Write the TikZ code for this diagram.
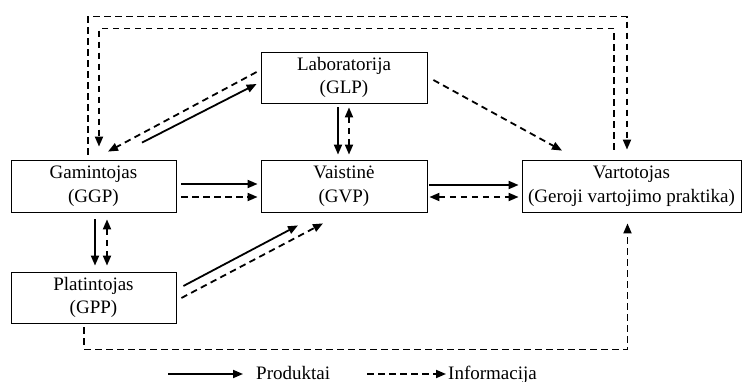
\documentclass[tikz,border=0pt]{standalone}
\usepackage{fontspec}
\setmainfont{Liberation Serif}
\usetikzlibrary{arrows.meta,calc}
\begin{document}
\begin{tikzpicture}[x=1pt,y=-1pt,
  >={Triangle[length=10pt,width=8pt]},
  txt/.style={font=\fontsize{19}{23.5}\selectfont},
  box/.style={txt,draw,line width=0.8pt,inner sep=0pt,align=center},
  prod/.style={line width=1.8pt,->},
  info/.style={line width=1.8pt,dash pattern=on 6.5pt off 4.5pt,->},
  infob/.style={line width=1.8pt,dash pattern=on 6.5pt off 4.5pt,<->}
]
\useasboundingbox (0,0) rectangle (742,382);
\node[box,minimum width=165pt,minimum height=52pt] (gam) at (93.5,186) {Gamintojas\\(GGP)};
\node[box,minimum width=165pt,minimum height=51pt] (plat) at (93.5,297.5) {Platintojas\\(GPP)};
\node[box,minimum width=166pt,minimum height=51pt] (lab) at (344,77.5) {Laboratorija\\(GLP)};
\node[box,minimum width=166pt,minimum height=52pt] (vais) at (344,186) {Vaistinė\\(GVP)};
\node[box,minimum width=219pt,minimum height=52pt] (vart) at (631.5,186) {Vartotojas\\(Geroji vartojimo praktika)};

% Gamintojas -> Vaistine
\draw[prod] ($(gam.east)+(5,-2)$) -- ($(vais.west)+(-3,-2)$);
\draw[info] ($(gam.east)+(5,11)$) -- ($(vais.west)+(-3,11)$);
% Vaistine -> Vartotojas
\draw[prod] ($(vais.east)+(2,-1)$) -- ($(vart.west)+(-3,-1)$);
\draw[infob] ($(vais.east)+(2,11)$) -- ($(vart.west)+(-3,11)$);
% Laboratorija -> Vaistine
\draw[prod] ($(lab.south)+(-6,4)$) -- ($(vais.north)+(-6,-5)$);
\draw[infob] ($(lab.south)+(5,4)$) -- ($(vais.north)+(5,-5)$);
% Gamintojas -> Platintojas
\draw[prod] ($(gam.south)+(1.5,7)$) -- ($(plat.north)+(1.5,-6)$);
\draw[infob] ($(gam.south)+(13.5,7)$) -- ($(plat.north)+(13.5,-6)$);
% Gamintojas <-> Laboratorija
\draw[prod] ($(gam.north)+(48.5,-17)$) -- ($(lab.west)+(-4,6.5)$);
\draw[info] ($(lab.west)+(-4,-5.5)$) -- ($(gam.north)+(14.5,-8)$);
% Platintojas -> Vaistine
\draw[prod] ($(plat.east)+(7,-11.5)$) -- ($(vais.south)+(-46,13)$);
\draw[info] ($(plat.east)+(5,0.5)$) -- ($(vais.south)+(-21,11)$);
% Laboratorija -> Vartotojas
\draw[info] ($(lab.east)+(6,2.5)$) -- ($(vart.north)+(-69.5,-9)$);
% top loops
\draw[info] ($(gam.north)+(-5.5,-5)$) |- ($(vart.north)+(-4.5,-143)$) -- ($(vart.north)+(-4.5,-10)$);
\draw[info] ($(vart.north)+(-17.5,-10)$) |- ($(gam.north)+(5.5,-131)$) -- ($(gam.north)+(5.5,-13)$);
% bottom loop
\draw[info] ($(plat.south)+(-9.5,4)$) |- ($(vart.south)+(-4,137)$) -- ($(vart.south)+(-4,11)$);

% legend
\node[txt,anchor=base west,inner sep=0pt] (lp) at (256,379) {Produktai};
\node[txt,anchor=base west,inner sep=0pt] (li) at (448,379) {Informacija};
\coordinate (lps) at (168,374);
\coordinate (lis) at (367,374);
\draw[prod] (lps) -- ($(lps -| lp.west)+(-13,0)$);
\draw[info] (lis) -- ($(lis -| li.west)+(-2,0)$);
\end{tikzpicture}
\end{document}
